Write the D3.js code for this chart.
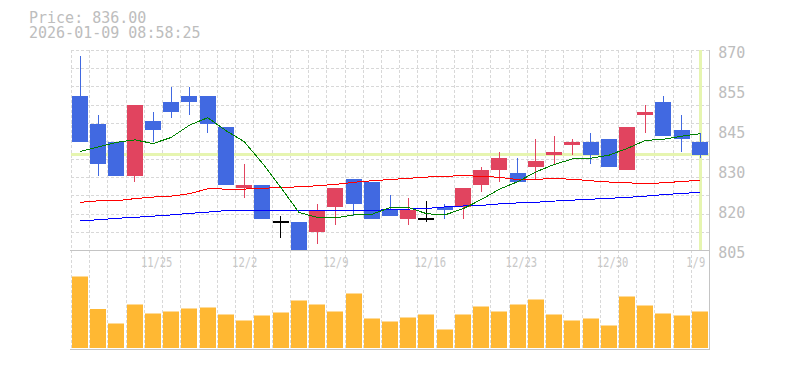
<!DOCTYPE html>
<html>
<head>
<meta charset="utf-8">
<script src="https://cdn.jsdelivr.net/npm/d3@7"></script>
<style>
  body { margin: 0; background: #fff; }
  text { font-family: "DejaVu Sans Mono", "Liberation Mono", monospace; }
</style>
</head>
<body>
<svg id="chart"></svg>
<script>
var dates = ["11/18","11/19","11/20","11/21","11/25","11/26","11/27","11/28","12/1","12/2",
  "12/3","12/4","12/5","12/8","12/9","12/10","12/11","12/12","12/15","12/16",
  "12/17","12/18","12/19","12/22","12/23","12/24","12/25","12/26","12/29","12/30",
  "1/5","1/6","1/7","1/8","1/9"];
var opens  = [855,846,840,829,847,853,855,855,845,825,826,814,814,811,819,828,827,818,815,815,
  819,819,826,831,830,832,836,839,840,841,831,849,853,844,840];
var highs  = [868,849,840,852,850,858,858,855,845,833,826,816,814,820,825,828,827,823,822,821,
  820,825,832,837,835,841,842,841,843,841,845,852,855,849,843];
var lows   = [840,829,829,827,840,848,849,843,826,822,815,809,805,807,813,816,815,816,813,814,
  815,815,824,827,827,828,833,836,833,832,831,843,842,837,835];
var closes = [840,833,829,852,844,850,853,846,826,826,815,814,805,818,825,820,815,816,818,815,
  818,825,831,835,827,834,837,840,836,832,845,850,842,841,836];
var volumes = [1430,780,490,870,690,730,790,810,670,550,650,710,950,870,730,1090,590,530,610,670,
  370,670,830,730,870,970,670,550,590,450,1030,850,690,650,730];
var ma5  = [837,838.5,840,840.8,839.6,841.6,845.6,848,843.8,840.2,833.2,825.4,817.2,815.6,815.4,816.4,816.6,818.8,818.8,816.8,
  816.4,818.4,821.4,824.8,827.2,830.4,832.8,834.6,834.8,835.8,838,840.6,841,842,842.8];
var ma25 = [820.5,821,821,821.7,822.2,822.5,823.3,824.9,824.8,824.8,825,825.4,825.5,825.9,826.3,827,827.5,827.9,828.3,828.7,
  829,829.1,829,828.6,827.9,828,828.2,828,827.5,827.1,826.8,826.7,826.8,827.3,827.6];
var ma75 = [814.6,814.8,815.3,815.6,816,816.4,816.9,817.3,817.8,817.9,817.9,817.9,817.9,817.9,817.9,817.9,817.9,818.1,818.3,818.5,
  819,819.3,819.5,820,820.3,820.5,820.9,821.2,821.5,821.8,822.1,822.5,823,823.4,823.7];
var priceTicks = [870,857,844,831,818,805];
var priceTickLabels = ["870","855","845","830","820","805"];
var dateLabels = ["11/25","12/2","12/9","12/16","12/23","12/30","1/9"];
var lastPrice = 836;
var headerLines = ["Price: 836.00", "2026-01-09 08:58:25"];

var W = 785, H = 370;
var plotLeft = 71, plotRight = 709.2, plotTop = 50, plotMid = 250, plotBottom = 349;

var svg = d3.select("#chart")
    .attr("width", W)
    .attr("height", H);

var x = d3.scaleBand()
    .domain(dates)
    .range([plotLeft, plotRight]);
var step = x.step();

var y = d3.scaleLinear()
    .domain([805, 870])
    .range([plotMid, plotTop]);

var yv = d3.scaleLinear()
    .domain([0, 1960])
    .range([plotBottom - 1, plotMid]);

function cx(d) { return Math.floor(x(d) + step / 2) + 0.5; }

// grid
var grid = svg.append("g")
    .attr("stroke", "#d8d8d8")
    .attr("stroke-dasharray", "3,2")
    .attr("shape-rendering", "crispEdges");
var rows = 11;
for (var k = 0; k < rows; k++) {
  var gy = Math.round(plotTop + k * (plotMid - plotTop) / rows) + 0.5;
  grid.append("line").attr("x1", plotLeft).attr("x2", plotRight).attr("y1", gy).attr("y2", gy);
}
dates.forEach(function(d) {
  var gx = Math.round(x(d)) + 0.5;
  grid.append("line").attr("x1", gx).attr("x2", gx).attr("y1", plotTop).attr("y2", plotBottom);
});

// frame
var frame = svg.append("g")
    .attr("stroke", "#c4c4c4")
    .attr("shape-rendering", "crispEdges");
frame.append("line").attr("x1", plotLeft - 1).attr("x2", plotRight + 1).attr("y1", plotMid + 0.5).attr("y2", plotMid + 0.5);
frame.append("line").attr("x1", plotLeft - 1).attr("x2", plotRight + 1).attr("y1", plotBottom + 0.5).attr("y2", plotBottom + 0.5);
frame.append("line").attr("x1", plotRight + 0.5).attr("x2", plotRight + 0.5).attr("y1", plotTop).attr("y2", plotBottom + 1);

// current price markers
svg.append("line")
    .attr("x1", plotLeft).attr("x2", plotRight)
    .attr("y1", y(lastPrice)).attr("y2", y(lastPrice))
    .attr("stroke", "#e6f5b0")
    .attr("stroke-width", 3);
svg.append("line")
    .attr("x1", cx(dates[dates.length - 1])).attr("x2", cx(dates[dates.length - 1]))
    .attr("y1", plotTop).attr("y2", plotMid)
    .attr("stroke", "#e6f5b0")
    .attr("stroke-width", 3);

// candles
function candleColor(i) {
  if (closes[i] > opens[i]) return "#e1445f";
  if (closes[i] < opens[i]) return "#4169e1";
  return "#000";
}

var candles = svg.append("g")
    .attr("shape-rendering", "crispEdges")
    .selectAll("g")
    .data(dates)
    .enter()
    .append("g");

candles.append("line")
    .attr("x1", function(d) { return cx(d); })
    .attr("x2", function(d) { return cx(d); })
    .attr("y1", function(d, i) { return y(highs[i]); })
    .attr("y2", function(d, i) { return y(lows[i]); })
    .attr("stroke", function(d, i) { return candleColor(i); })
    .attr("stroke-width", 1);

candles.append("rect")
    .attr("x", function(d) { return Math.round(x(d) + 1); })
    .attr("width", 16)
    .attr("y", function(d, i) {
      return opens[i] === closes[i] ? y(opens[i]) - 1 : y(Math.max(opens[i], closes[i]));
    })
    .attr("height", function(d, i) {
      return opens[i] === closes[i] ? 2 : Math.abs(y(opens[i]) - y(closes[i]));
    })
    .attr("fill", function(d, i) { return candleColor(i); });

// moving averages
function drawLine(values, color) {
  svg.append("path")
    .datum(values)
    .attr("fill", "none")
    .attr("stroke", color)
    .attr("stroke-width", 1)
    .attr("shape-rendering", "crispEdges")
    .attr("d", d3.line()
      .x(function(d, i) { return x(dates[i]) + step / 2; })
      .y(function(d) { return y(d); }));
}
drawLine(ma75, "#0000ff");
drawLine(ma25, "#ff0000");
drawLine(ma5, "#008000");

// volume
svg.append("g")
    .selectAll("rect")
    .data(volumes)
    .enter()
    .append("rect")
      .attr("x", function(d, i) { return Math.round(x(dates[i]) + 1); })
      .attr("width", 16)
      .attr("y", function(d) { return yv(d); })
      .attr("height", function(d) { return yv(0) - yv(d); })
      .attr("fill", "#ffb833");

// price axis
var yAxis = svg.append("g")
    .attr("transform", "translate(" + (plotRight + 9) + ",0)")
    .call(d3.axisRight(y)
      .tickValues(priceTicks)
      .tickSize(0)
      .tickPadding(0)
      .tickFormat(function(d, i) { return priceTickLabels[i]; }));
yAxis.select(".domain").remove();
yAxis.selectAll("text")
    .attr("dy", null)
    .attr("y", 7.3)
    .attr("fill", "#bdbdbd")
    .style("font-size", "15px")
    .style("font-family", "DejaVu Sans Mono");

// date labels
svg.append("g")
    .selectAll("text")
    .data(dateLabels)
    .enter()
    .append("text")
      .attr("x", function(d, i) {
        return i === dateLabels.length - 1 ? plotRight - 4 : x(d) - 3;
      })
      .attr("y", 266.7)
      .attr("text-anchor", function(d, i) { return i === dateLabels.length - 1 ? "end" : "start"; })
      .attr("textLength", function(d) { return d.length * 6.3; })
      .attr("lengthAdjust", "spacingAndGlyphs")
      .attr("fill", "#c8c8c8")
      .style("font-size", "13.5px")
      .text(function(d) { return d; });

// header
svg.append("g")
    .selectAll("text")
    .data(headerLines)
    .enter()
    .append("text")
      .attr("x", 29)
      .attr("y", function(d, i) { return 23.3 + i * 15; })
      .attr("fill", "#bdbdbd")
      .style("font-size", "15px")
      .text(function(d) { return d; });
</script>
</body>
</html>
